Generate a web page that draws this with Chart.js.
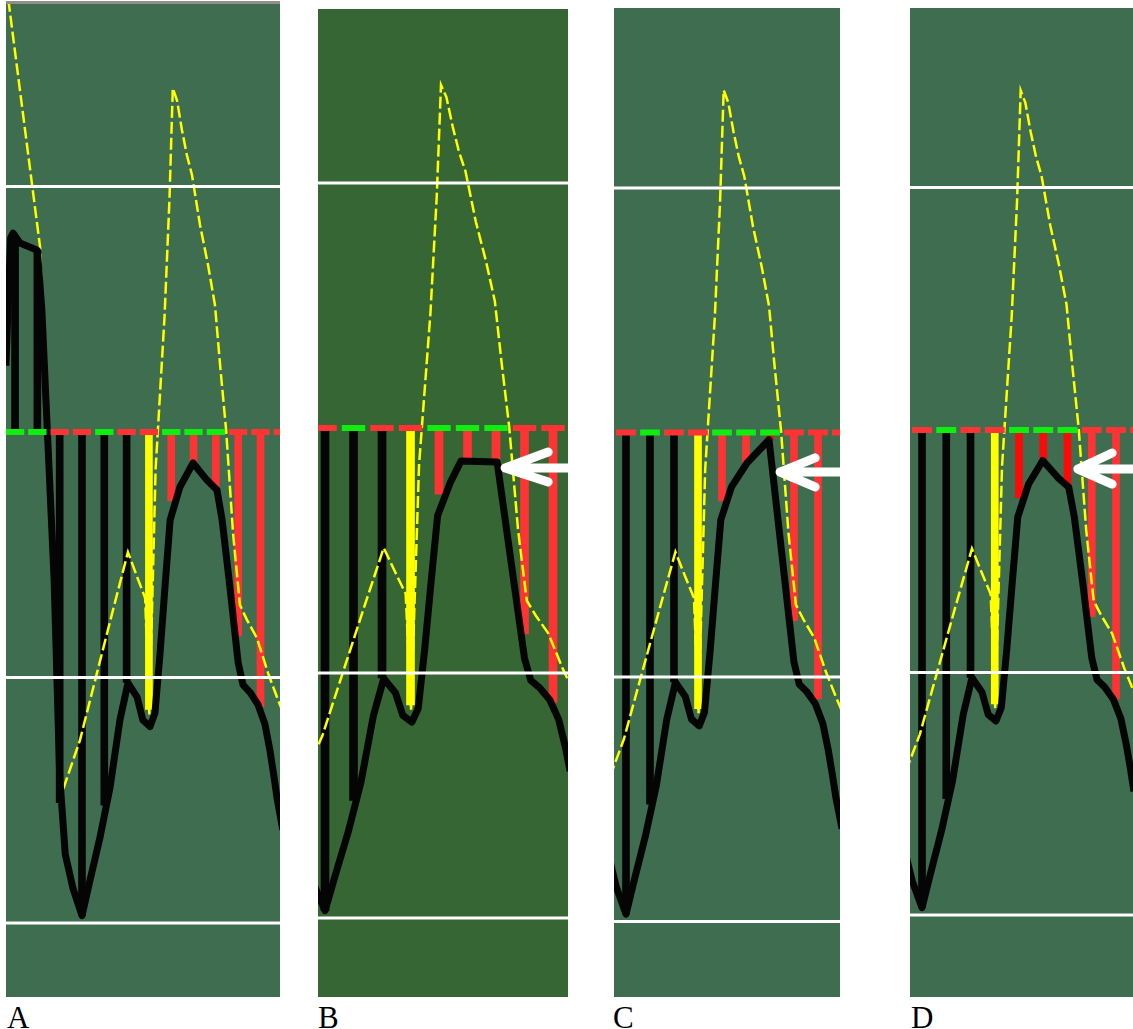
<!DOCTYPE html>
<html>
<head>
<meta charset="utf-8">
<script src="https://cdn.jsdelivr.net/npm/chart.js@4.4.1/dist/chart.umd.min.js"></script>
<style>
  body { margin:0; background:#fff; width:1133px; height:1029px; position:relative; overflow:hidden; }
  canvas { position:absolute; }
  .label { position:absolute; top:1002px; font-family:"Liberation Serif", "DejaVu Serif", serif; font-size:31px; line-height:31px; color:#000; }
  #topline { position:absolute; left:6px; top:1px; width:274px; height:3px; background:#948f84; }
</style>
</head>
<body>
<div id="topline"></div>
<canvas id="cA"></canvas>
<canvas id="cB"></canvas>
<canvas id="cC"></canvas>
<canvas id="cD"></canvas>
<div class="label" style="left:7px">A</div>
<div class="label" style="left:318px">B</div>
<div class="label" style="left:613px">C</div>
<div class="label" style="left:911px">D</div>
<script>
// ------------------ Dados ------------------
// passos do histograma (k) e linhas de referencia
const steps = [0, 1, 2, 3, 4, 5, 6, 7, 8, 9, 10, 11];
const refLevels = [1, -1, -2];
// sinal da linha zero, um traco por passo (g = verde, r = vermelho)
const signal = ['g','g','r','r','g','r','r','g','g','g','r','r','r'];

// barras do histograma em cada painel
const barsA = [0.80, 0.74, -1.51, -1.97, -1.52, -1.02, -1.13, -0.28, -0.126, -0.236, -0.83, -1.12];
const barsB = [0.80, 0.74, -1.51, -1.97, -1.52, -1.02, -1.13, -0.27, -0.135, -0.137, -0.84, -1.12];
const barsC = [0.80, 0.74, -1.51, -1.97, -1.52, -1.02, -1.13, -0.28, -0.125, -0.03, -0.77, -1.09];
const barsD = [0.80, 0.74, -1.51, -1.97, -1.52, -1.02, -1.13, -0.28, -0.136, -0.235, -0.77, -1.11];
// tipo de cada barra (k = preta, y = amarela, r = vermelha, R = vermelho vivo)
const kindA = ['k','k','k','k','k','k','y','r','r','r','r','r'];
const kindB = ['k','k','k','k','k','k','y','r','r','r','r','r'];
const kindC = ['k','k','k','k','k','k','y','r','r','R','r','r'];
const kindD = ['k','k','k','k','k','k','y','R','R','R','r','r'];

// linha amarela tracejada
const yellowK = [-0.3, 1.12, 2.1, 2.91, 3.67, 4.39, 5.06, 5.47, 5.83, 6.02, 6.3, 6.7, 6.92, 7.07, 7.26, 7.48, 7.7, 7.93, 8.29, 8.65, 8.96, 9.19, 9.46, 9.77, 10.08, 10.4, 10.84, 11.34, 11.79, 12.0];
const yellowV = [1.76, 0.754, -1.47, -1.255, -0.982, -0.725, -0.489, -0.59, -0.676, -1.15, -0.15, 0.47, 0.945, 1.40, 1.35, 1.23, 1.128, 1.047, 0.843, 0.68, 0.517, 0.273, 0.008, -0.411, -0.705, -0.766, -0.839, -0.982, -1.092, -1.14];

// linha preta: parte comum a esquerda, topo de cada painel, parte comum a direita
const blackLeftK = [-0.41, -0.2, -0.09, 0.22, 1.0, 1.2, 1.45, 1.75, 2.0, 2.25, 2.6, 3.0, 3.36, 3.81, 4.26, 4.7, 5.06, 5.47, 5.73, 6.05, 6.27, 6.5, 6.72, 6.95, 7.39];
const blackLeftV = [0.27, 0.79, 0.81, 0.77, 0.74, 0.5, 0.0, -0.6, -1.4, -1.72, -1.86, -1.97, -1.825, -1.65, -1.446, -1.173, -1.022, -1.08, -1.173, -1.2, -1.145, -0.9, -0.631, -0.358, -0.224];
const peakAK = [7.98, 8.6, 9.05, 9.28, 9.63];
const peakAV = [-0.126, -0.196, -0.236, -0.358, -0.631];
const peakBK = [7.77, 9.04];
const peakBV = [-0.135, -0.139];
const peakCK = [8.04, 8.96];
const peakCV = [-0.125, -0.03];
const blackRightK = [10.0, 10.22, 10.53, 10.89, 11.2, 11.43, 11.6, 11.74, 12.0];
const blackRightV = [-0.94, -1.03, -1.06, -1.11, -1.19, -1.3, -1.4, -1.49, -1.62];

// setas brancas (B, C, D): ponta e fim das duas abas
const arrowTipK = [null, 9.32, 9.42, 9.43];
const arrowTipV = [null, -0.163, -0.162, -0.161];
const arrowArmK = [null, 10.83, 10.88, 10.84];
const arrowArmUpV = [null, -0.098, -0.104, -0.095];
const arrowArmDnV = [null, -0.22, -0.223, -0.223];

// ------------------ Paineis ------------------
const panels = [
  { id:'cA', left:6,   top:4, w:274, h:993, kmin:-0.406, kmax:11.875, vmin:-2.301, vmax:1.743, bg:'#3f6d50', barW:7,
    bars:barsA, kind:kindA, peakK:peakAK, peakV:peakAV },
  { id:'cB', left:318, top:9, w:250, h:988, kmin:2.754, kmax:11.526, vmin:-2.322, vmax:1.710, bg:'#356633', barW:8,
    bars:barsB, kind:kindB, peakK:peakBK, peakV:peakBV },
  { id:'cC', left:614, top:8, w:226, h:989, kmin:2.5, kmax:11.917, vmin:-2.309, vmax:1.736, bg:'#3f6d50', barW:7,
    bars:barsC, kind:kindC, peakK:peakCK, peakV:peakCV },
  { id:'cD', left:910, top:8, w:223, h:989, kmin:2.505, kmax:11.701, vmin:-2.338, vmax:1.740, bg:'#3f6d50', barW:7,
    bars:barsD, kind:kindD, peakK:peakAK, peakV:peakAV }
];

const kindColor = { k:'#050505', y:'#ffff00', r:'#ff3333', R:'#ff0808' };

function pts(ks, vs) {
  return ks.map((k, i) => ({ x:k, y:vs[i] }));
}

function dashPoints(col) {
  let out = [];
  signal.forEach((s, k) => {
    if (s === col) out.push({x:k - 0.41, y:0}, {x:k + 0.41, y:0}, {x:k + 0.5, y:null});
  });
  return out;
}

function refPoints(p) {
  let out = [];
  refLevels.forEach(L => {
    out.push({x:p.kmin - 1, y:L}, {x:p.kmax + 1, y:L}, {x:p.kmax + 2, y:null});
  });
  return out;
}

Chart.defaults.animation = false;

panels.forEach((p, idx) => {
  const cv = document.getElementById(p.id);
  cv.width = p.w;
  cv.height = p.h;
  cv.style.left = p.left + 'px';
  cv.style.top = p.top + 'px';
  cv.style.width = p.w + 'px';
  cv.style.height = p.h + 'px';
  cv.style.background = p.bg;

  const black = pts(blackLeftK, blackLeftV)
    .concat(pts(p.peakK, p.peakV))
    .concat(pts(blackRightK, blackRightV));

  const datasets = [];

  if (arrowTipK[idx] !== null) {
    const tip = {x:arrowTipK[idx], y:arrowTipV[idx]};
    datasets.push({
      type:'line', order:0,
      data:[
        {x:arrowArmK[idx], y:arrowArmUpV[idx]}, tip, {x:arrowArmK[idx], y:arrowArmDnV[idx]},
        {x:arrowArmK[idx] + 0.1, y:null},
        tip, {x:p.kmax + 1, y:arrowTipV[idx]}
      ],
      borderColor:'#ffffff', borderWidth:9, borderCapStyle:'round', borderJoinStyle:'round',
      pointRadius:0
    });
  }

  datasets.push({
    type:'line', order:1, data:refPoints(p),
    borderColor:'#ffffff', borderWidth:3, pointRadius:0
  });
  datasets.push({
    type:'line', order:2, data:dashPoints('g'),
    borderColor:'#10ee10', borderWidth:6, borderCapStyle:'butt', pointRadius:0
  });
  datasets.push({
    type:'line', order:2, data:dashPoints('r'),
    borderColor:'#ff3333', borderWidth:6, borderCapStyle:'butt', pointRadius:0
  });
  datasets.push({
    type:'line', order:3, data:black,
    borderColor:'#050505', borderWidth:7, borderJoinStyle:'round', pointRadius:0
  });
  datasets.push({
    type:'line', order:4, data:pts(yellowK, yellowV),
    borderColor:'#ffff00', borderWidth:2.5, borderDash:[12, 4], pointRadius:0
  });
  datasets.push({
    type:'bar', order:5,
    data:steps.map((k, i) => ({ x:k, y:[0, p.bars[i]] })),
    backgroundColor:p.kind.map(c => kindColor[c]),
    barThickness:p.barW, borderWidth:0, grouped:false
  });

  new Chart(cv, {
    type:'line',
    data:{ datasets:datasets },
    options:{
      responsive:false,
      animation:false,
      events:[],
      layout:{ padding:0 },
      plugins:{ legend:{ display:false }, tooltip:{ enabled:false } },
      elements:{ line:{ tension:0 }, point:{ radius:0 } },
      scales:{
        x:{ type:'linear', min:p.kmin, max:p.kmax, offset:false, grid:{ offset:false }, display:false },
        y:{ type:'linear', min:p.vmin, max:p.vmax, display:false }
      }
    }
  });
});
</script>
</body>
</html>
